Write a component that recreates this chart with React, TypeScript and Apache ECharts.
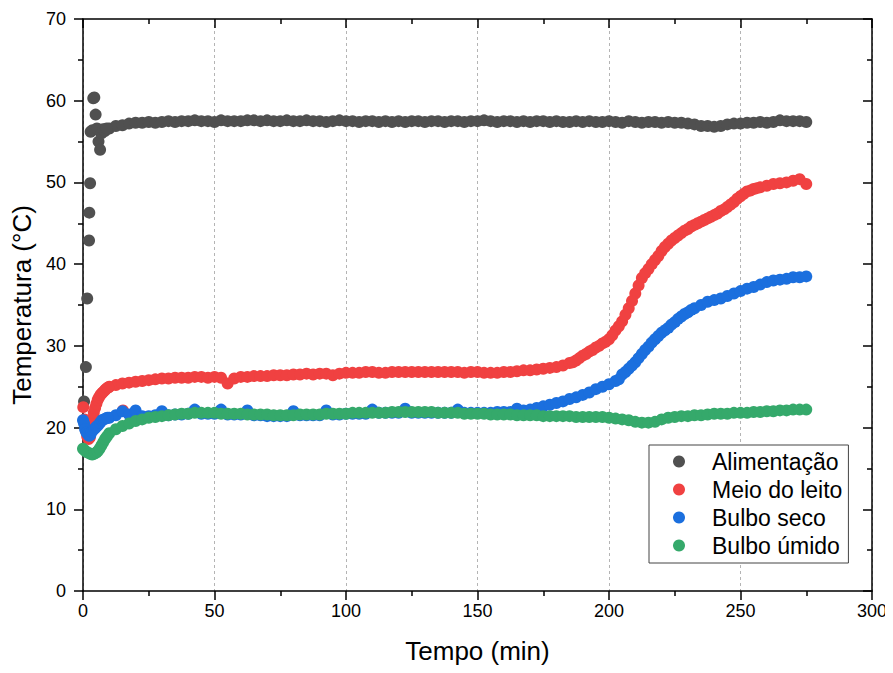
import React, { useEffect, useRef } from "react";
import * as echarts from "echarts";

// ---- Data ----
const SERIES_NAMES = ["Alimentação", "Meio do leito", "Bulbo seco", "Bulbo úmido"];
const SERIES_COLORS = ["#505050", "#f04141", "#1b6fde", "#35a96b"];

// Irregular samples [time (min), temperature (°C)]
const alimentacaoEarly: [number, number][] = [
  [0.4, 23.2], [1.1, 27.4], [1.6, 35.8], [2.3, 42.9], [2.4, 46.3], [2.7, 49.9],
  [2.9, 56.2], [3.6, 56.4], [3.9, 60.3], [4.3, 60.4], [4.8, 58.3], [5.3, 56.6],
  [5.9, 55.0], [6.5, 54.0], [7.0, 56.0], [7.6, 56.5], [8.3, 56.3], [9.0, 56.6],
];
const meioEarly: [number, number][] = [
  [0.1, 22.5], [0.6, 21.0], [1.1, 19.6], [1.6, 18.9], [2.1, 18.6], [2.6, 18.8],
  [3.1, 20.0], [3.6, 21.0], [4.1, 21.8], [4.6, 22.4], [5.1, 22.9], [5.6, 23.4],
  [6.1, 23.7], [6.6, 24.0], [7.2, 24.2], [7.8, 24.4], [8.4, 24.6], [9.0, 24.8],
  [9.6, 24.9], [15.2, 22.1],
  [186.25, 28.0], [188.75, 28.5], [191.25, 29.0], [193.75, 29.5], [196.25, 30.0],
  [198.75, 30.5], [201.25, 31.3], [203.75, 32.4], [206.25, 33.8], [208.75, 35.5],
  [211.25, 37.4], [213.75, 38.9], [216.25, 40.0], [218.75, 41.0], [221.25, 42.1],
  [223.75, 42.9], [226.25, 43.5], [228.75, 44.1], [231.25, 44.6], [233.75, 45.0],
  [236.25, 45.4], [238.75, 45.8], [241.25, 46.2], [243.75, 46.7], [246.25, 47.3],
  [248.75, 48.0], [251.25, 48.6], [253.75, 49.0], [256.25, 49.3],
];
const secoEarly: [number, number][] = [
  [0.0, 20.9], [0.4, 20.5], [0.8, 19.8], [1.3, 19.4], [1.8, 19.2], [2.3, 19.0],
  [2.8, 19.1], [3.3, 19.5], [3.9, 19.7], [4.5, 19.9], [5.1, 20.1], [5.8, 20.3],
  [6.5, 20.6], [7.2, 20.9], [7.9, 21.0], [8.6, 21.1], [9.3, 21.2],
  [203.75, 25.9], [206.25, 26.8], [208.75, 27.6], [211.25, 28.5], [213.75, 29.5],
  [216.25, 30.4], [218.75, 31.2], [221.25, 31.9], [223.75, 32.6], [226.25, 33.3],
  [228.75, 33.9], [231.25, 34.4],
];
const umidoEarly: [number, number][] = [
  [0.0, 17.4], [0.7, 17.2], [1.4, 17.0], [2.1, 16.9], [2.8, 16.8], [3.5, 16.7],
  [4.2, 16.8], [4.9, 16.9], [5.6, 17.1], [6.3, 17.4], [7.0, 17.8], [7.7, 18.2],
  [8.4, 18.6], [9.1, 18.9],
];

// Regular samples from 10 min to 275 min, every 2.5 min
const TIME_START = 10;
const TIME_STEP = 2.5;

const alimentacao = [
  56.6, 56.9, 57.0, 57.2, 57.3, 57.3, 57.4, 57.3, 57.4, 57.5, 57.4, 57.5,
  57.5, 57.6, 57.5, 57.5, 57.4, 57.6, 57.5, 57.5, 57.5, 57.6, 57.6, 57.5,
  57.6, 57.5, 57.5, 57.6, 57.5, 57.5, 57.6, 57.5, 57.5, 57.4, 57.5, 57.6,
  57.5, 57.5, 57.4, 57.5, 57.5, 57.4, 57.5, 57.4, 57.5, 57.4, 57.5, 57.5,
  57.4, 57.5, 57.5, 57.4, 57.5, 57.5, 57.4, 57.5, 57.5, 57.6, 57.5, 57.4,
  57.5, 57.5, 57.4, 57.5, 57.4, 57.5, 57.5, 57.4, 57.5, 57.4, 57.4, 57.5,
  57.4, 57.5, 57.4, 57.4, 57.5, 57.4, 57.3, 57.5, 57.4, 57.3, 57.4, 57.4,
  57.3, 57.4, 57.3, 57.3, 57.2, 57.1, 56.9, 56.9, 56.8, 56.9, 57.1, 57.2,
  57.2, 57.3, 57.3, 57.4, 57.3, 57.4, 57.6, 57.5, 57.5, 57.5, 57.4,
];
const meioDoLeito = [
  25.0, 25.2, 25.4, 25.5, 25.6, 25.7, 25.8, 25.9, 26.0, 26.0, 26.1, 26.1,
  26.1, 26.2, 26.2, 26.1, 26.2, 26.1, 25.4, 26.0, 26.2, 26.2, 26.3, 26.3,
  26.3, 26.4, 26.4, 26.4, 26.5, 26.5, 26.6, 26.5, 26.6, 26.6, 26.4, 26.6,
  26.7, 26.7, 26.7, 26.8, 26.8, 26.7, 26.7, 26.8, 26.8, 26.8, 26.8, 26.8,
  26.8, 26.8, 26.8, 26.8, 26.8, 26.8, 26.7, 26.8, 26.8, 26.7, 26.7, 26.7,
  26.8, 26.8, 26.9, 27.0, 27.0, 27.1, 27.2, 27.3, 27.4, 27.6, 27.9, 28.2,
  28.8, 29.3, 29.8, 30.3, 30.8, 31.9, 33.0, 34.6, 36.4, 38.3, 39.4, 40.5,
  41.6, 42.5, 43.2, 43.8, 44.3, 44.8, 45.2, 45.6, 46.0, 46.5, 47.0, 47.6,
  48.3, 48.9, 49.2, 49.4, 49.6, 49.8, 49.9, 50.0, 50.2, 50.4, 49.8,
];
const bulboSeco = [
  21.2, 21.5, 22.0, 21.6, 22.1, 21.4, 21.4, 21.5, 22.0, 21.5, 21.6, 21.6,
  21.7, 22.2, 21.7, 21.7, 21.7, 22.2, 21.6, 21.6, 21.6, 22.1, 21.5, 21.5,
  21.4, 21.4, 21.4, 21.4, 22.0, 21.5, 21.5, 21.5, 21.5, 22.1, 21.6, 21.6,
  21.7, 21.7, 21.7, 21.7, 22.2, 21.8, 21.8, 21.8, 21.8, 22.3, 21.8, 21.8,
  21.8, 21.8, 21.8, 21.8, 21.8, 22.2, 21.8, 21.8, 21.8, 21.8, 21.8, 21.9,
  21.9, 21.9, 22.3, 22.1, 22.2, 22.4, 22.6, 22.8, 23.0, 23.2, 23.5, 23.7,
  24.0, 24.3, 24.7, 25.0, 25.3, 25.7, 26.5, 27.2, 28.0, 29.0, 29.9, 30.8,
  31.6, 32.2, 32.9, 33.6, 34.1, 34.6, 35.0, 35.4, 35.6, 35.8, 36.1, 36.4,
  36.7, 37.0, 37.2, 37.5, 37.8, 38.0, 38.1, 38.2, 38.4, 38.4, 38.5,
];
const bulboUmido = [
  19.3, 19.8, 20.2, 20.5, 20.8, 21.0, 21.2, 21.3, 21.4, 21.5, 21.6, 21.7,
  21.7, 21.8, 21.8, 21.8, 21.8, 21.7, 21.7, 21.7, 21.7, 21.6, 21.6, 21.6,
  21.6, 21.5, 21.5, 21.5, 21.5, 21.6, 21.6, 21.6, 21.6, 21.7, 21.7, 21.7,
  21.7, 21.8, 21.8, 21.8, 21.8, 21.8, 21.8, 21.9, 21.9, 21.9, 21.9, 21.9,
  21.9, 21.9, 21.8, 21.8, 21.8, 21.8, 21.7, 21.7, 21.7, 21.7, 21.6, 21.6,
  21.6, 21.6, 21.5, 21.5, 21.5, 21.5, 21.4, 21.4, 21.4, 21.4, 21.4, 21.3,
  21.3, 21.3, 21.3, 21.3, 21.2, 21.1, 21.0, 20.9, 20.7, 20.6, 20.6, 20.7,
  21.0, 21.2, 21.3, 21.4, 21.4, 21.5, 21.5, 21.6, 21.7, 21.7, 21.7, 21.8,
  21.8, 21.8, 21.9, 21.9, 22.0, 22.0, 22.1, 22.1, 22.2, 22.2, 22.2,
];

const X_TICKS = { min: 0, max: 300, interval: 50 };
const Y_TICKS = { min: 0, max: 70, interval: 10 };

const FONT = '"Liberation Sans", Arial, Helvetica, sans-serif';

function buildData(extra: [number, number][], regular: number[]): [number, number][] {
  const out: [number, number][] = [];
  regular.forEach((v, i) => out.push([TIME_START + i * TIME_STEP, v]));
  extra.forEach((p) => out.push([p[0], p[1]]));
  return out;
}

export default function App() {
  const ref = useRef<HTMLDivElement>(null);

  useEffect(() => {
    if (!ref.current) return;
    const chart = echarts.init(ref.current, undefined, { renderer: "svg" });

    const datasets = [
      buildData(alimentacaoEarly, alimentacao),
      buildData(meioEarly, meioDoLeito),
      buildData(secoEarly, bulboSeco),
      buildData(umidoEarly, bulboUmido),
    ];

    const axisLine = { show: true, onZero: false, lineStyle: { color: "#000", width: 1.5 } };
    const tickStyle = { color: "#000", width: 1.5 };

    chart.setOption({
      animation: false,
      backgroundColor: "#fff",
      textStyle: { fontFamily: FONT },
      grid: { left: 83, right: 21, top: 19, bottom: 82, containLabel: false },
      xAxis: [
        {
          type: "value",
          ...X_TICKS,
          position: "bottom",
          name: "Tempo (min)",
          nameLocation: "middle",
          nameGap: 47,
          nameTextStyle: { fontSize: 26, color: "#000", fontFamily: FONT },
          axisLine,
          axisTick: { show: true, inside: false, length: 9, lineStyle: tickStyle },
          minorTick: { show: true, splitNumber: 2, length: 5, lineStyle: tickStyle },
          axisLabel: { show: true, fontSize: 18, color: "#000", margin: 11, fontFamily: FONT },
          splitLine: { show: true, lineStyle: { color: "#b4b4b4", type: [3, 3], width: 1 } },
          minorSplitLine: { show: false },
        },
        {
          type: "value",
          ...X_TICKS,
          position: "top",
          axisLine,
          axisTick: { show: true, inside: true, length: 9, lineStyle: tickStyle },
          minorTick: { show: true, splitNumber: 2, length: 5, lineStyle: tickStyle },
          axisLabel: { show: false },
          splitLine: { show: false },
        },
      ],
      yAxis: [
        {
          type: "value",
          ...Y_TICKS,
          position: "left",
          name: "Temperatura (°C)",
          nameLocation: "middle",
          nameGap: 46,
          nameTextStyle: { fontSize: 26, color: "#000", fontFamily: FONT },
          axisLine,
          axisTick: { show: true, inside: false, length: 9, lineStyle: tickStyle },
          minorTick: { show: true, splitNumber: 2, length: 5, lineStyle: tickStyle },
          axisLabel: { show: true, fontSize: 18, color: "#000", margin: 17, fontFamily: FONT },
          splitLine: { show: false },
        },
        {
          type: "value",
          ...Y_TICKS,
          position: "right",
          axisLine,
          axisTick: { show: true, inside: true, length: 9, lineStyle: tickStyle },
          minorTick: { show: true, splitNumber: 2, length: 5, lineStyle: tickStyle },
          axisLabel: { show: false },
          splitLine: { show: false },
        },
      ],
      legend: {
        orient: "vertical",
        left: 649,
        top: 445,
        padding: [5, 6, 6, 24],
        itemGap: 5,
        itemWidth: 12,
        itemHeight: 12,
        icon: "circle",
        borderColor: "#444",
        borderWidth: 1,
        borderRadius: 0,
        backgroundColor: "#fff",
        formatter: (name: string) => `{g|}{n|${name}}`,
        textStyle: {
          fontSize: 23,
          color: "#000",
          fontFamily: FONT,
          rich: {
            g: { width: 22, fontSize: 23 },
            n: { fontSize: 23, color: "#000", fontFamily: FONT },
          },
        },
        data: SERIES_NAMES,
      },
      series: SERIES_NAMES.map((name, i) => ({
        name,
        type: "scatter",
        xAxisIndex: 0,
        yAxisIndex: 0,
        symbol: "circle",
        symbolSize: 12,
        itemStyle: { color: SERIES_COLORS[i], opacity: 1 },
        emphasis: { disabled: true },
        data: datasets[i],
        z: 2 + i,
      })),
    });

    return () => chart.dispose();
  }, []);

  return <div ref={ref} style={{ width: 893, height: 673, margin: -8 }} />;
}
